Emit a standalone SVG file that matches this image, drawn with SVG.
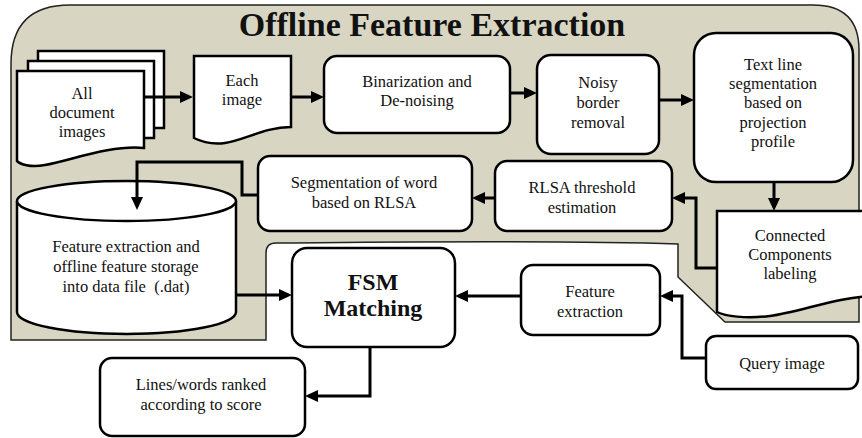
<svg xmlns="http://www.w3.org/2000/svg" width="862" height="438" viewBox="0 0 862 438">
  <style>
    .box { fill: #fff; stroke: #000; stroke-width: 2.5; }
    .t { font-family: "Liberation Serif", "Times New Roman", serif; font-size: 16.5px; fill: #111; text-anchor: middle; }
    .tb { font-family: "Liberation Serif", "Times New Roman", serif; font-weight: bold; fill: #111; text-anchor: middle; }
    .wire { fill: none; stroke: #000; stroke-width: 3; marker-end: url(#head); }
  </style>
  <defs>
    <marker id="head" viewBox="0 0 13 12" markerWidth="13" markerHeight="12" markerUnits="userSpaceOnUse" refX="2" refY="6" orient="auto">
      <path d="M0,0 L13,6 L0,12 Z" fill="#000"/>
    </marker>
  </defs>
  <rect width="862" height="438" fill="#fff"/>

  <!-- offline stage panel -->
  <g id="offline-panel">
    <path d="M11,340 V64 Q11,5 70,5 H813 Q859,5 859,50 V322 H725 L678,277 V244 C560,240 400,242 276,243 Q266,243 266,253 V340 Z" fill="#d8d6c3" stroke="#222" stroke-width="1.5"/>
    <text class="tb" x="432" y="36" font-size="34">Offline Feature Extraction</text>
  </g>

  <g id="all-documents">
    <rect x="38" y="51" width="126" height="77" class="box"/>
    <rect x="28" y="61" width="126" height="77" class="box"/>
    <path d="M17,71 H144 V148 C110,145 72,160 45,165 C30,168 20,164 17,161 Z" class="box"/>
    <text class="t" x="82" y="99">All</text>
    <text class="t" x="82" y="118">document</text>
    <text class="t" x="82" y="137">images</text>
  </g>

  <g id="each-image">
    <path d="M194,56 H291 V127 C265,127 245,140 225,143 C210,145 200,141 194,138 Z" class="box"/>
    <text class="t" x="242" y="86">Each</text>
    <text class="t" x="242" y="105">image</text>
  </g>

  <g id="binarization">
    <rect x="324" y="56" width="186" height="77" rx="13" class="box"/>
    <text class="t" x="417" y="87">Binarization and</text>
    <text class="t" x="417" y="106">De-noising</text>
  </g>

  <g id="noisy-border">
    <rect x="537" y="55" width="122" height="99" rx="14" class="box"/>
    <text class="t" x="598" y="88">Noisy</text>
    <text class="t" x="598" y="108">border</text>
    <text class="t" x="598" y="128">removal</text>
  </g>

  <g id="text-line-segmentation">
    <rect x="694" y="33" width="159" height="149" rx="22" class="box"/>
    <text class="t" x="773" y="70">Text line</text>
    <text class="t" x="773" y="89">segmentation</text>
    <text class="t" x="773" y="108">based on</text>
    <text class="t" x="773" y="128">projection</text>
    <text class="t" x="773" y="147">profile</text>
  </g>

  <g id="connected-components">
    <path d="M717,211 H875 V296 C840,296 800,312 770,316 C745,319 725,316 717,312 Z" class="box"/>
    <text class="t" x="790" y="241">Connected</text>
    <text class="t" x="790" y="260">Components</text>
    <text class="t" x="790" y="279">labeling</text>
  </g>

  <g id="rlsa-threshold">
    <rect x="495" y="161" width="177" height="70" rx="12" class="box"/>
    <text class="t" x="582" y="193">RLSA threshold</text>
    <text class="t" x="582" y="213">estimation</text>
  </g>

  <g id="word-segmentation">
    <rect x="258" y="156" width="214" height="75" rx="12" class="box"/>
    <text class="t" x="364" y="188">Segmentation of word</text>
    <text class="t" x="364" y="208">based on RLSA</text>
  </g>

  <g id="feature-storage">
    <path d="M17,201 V312 A109.5,22 0 0 0 236,312 V201" class="box"/>
    <ellipse cx="126.5" cy="201" rx="109.5" ry="20" class="box"/>
    <text class="t" x="126" y="252">Feature extraction and</text>
    <text class="t" x="126" y="272">offline feature storage</text>
    <text class="t" x="126" y="292" xml:space="preserve">into data file  (.dat)</text>
  </g>

  <g id="fsm-matching">
    <rect x="292" y="248" width="163" height="99" rx="15" class="box"/>
    <text class="tb" x="373" y="290" font-size="24">FSM</text>
    <text class="tb" x="373" y="316" font-size="24">Matching</text>
  </g>

  <g id="query-feature-extraction">
    <rect x="521" y="265" width="139" height="70" rx="12" class="box"/>
    <text class="t" x="590" y="297">Feature</text>
    <text class="t" x="590" y="317">extraction</text>
  </g>

  <g id="query-image">
    <rect x="706" y="336" width="152" height="53" rx="10" class="box"/>
    <text class="t" x="782" y="369">Query image</text>
  </g>

  <g id="ranked-results">
    <rect x="100" y="358" width="205" height="78" rx="12" class="box"/>
    <text class="t" x="201" y="390">Lines/words ranked</text>
    <text class="t" x="201" y="410">according to score</text>
  </g>

  <g id="connectors">
    <path class="wire" d="M144,97 H182"/>
    <path class="wire" d="M291,97 H313"/>
    <path class="wire" d="M510,93 H526"/>
    <path class="wire" d="M659,100 H683"/>
    <path class="wire" d="M774,182 V200"/>
    <path class="wire" d="M717,268 H696 V198 H683"/>
    <path class="wire" d="M495,198 H483"/>
    <path class="wire" d="M258,195 H242 V162 H137 V199" stroke-width="2.5"/>
    <path class="wire" d="M236,295 H281"/>
    <path class="wire" d="M521,296 H466"/>
    <path class="wire" d="M706,358 H682 V296 H671"/>
    <path class="wire" d="M370,347 V396 H316"/>
  </g>
</svg>
